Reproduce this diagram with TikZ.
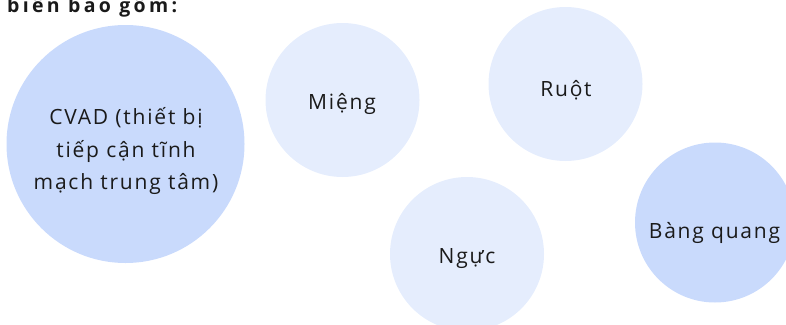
\documentclass[tikz,border=0pt]{standalone}
\usepackage{fontspec}
\setmainfont{Open Sans}[LetterSpace=8.5]
\newfontfamily\headfont{Open Sans}[LetterSpace=17]
\definecolor{bubdark}{RGB}{201,218,252}
\definecolor{bublight}{RGB}{229,237,253}
\definecolor{ink}{RGB}{26,26,26}
\begin{document}
\begin{tikzpicture}[x=1pt,y=-1pt,
  bubble/.style={circle, inner sep=0pt, draw=none},
  lbl/.style={anchor=base, text=ink, font=\fontsize{21}{25}\selectfont, inner sep=0pt}]
\useasboundingbox (0,0) rectangle (786,324);
\clip (0,0) rectangle (786,324);
% header (clipped at top)
\node[anchor=base west, inner sep=0pt, text=ink, font=\headfont\bfseries\fontsize{19.5}{23}\selectfont] (head) at (7,12.3) {biến bao gồm:};
% bubbles
\node[bubble, fill=bubdark, minimum size=238pt] (cvad) at (125.5,144) {};
\node[bubble, fill=bublight, minimum size=154pt] (mieng) at (342.5,100) {};
\node[bubble, fill=bublight, minimum size=154pt] (ruot) at (565.5,84) {};
\node[bubble, fill=bublight, minimum size=154pt] (nguc) at (467,254) {};
\node[bubble, fill=bubdark, minimum size=160pt] (bang) at (715,222.5) {};
% labels
\node[lbl] (cvad1) at (126,124) {CVAD (thiết bị};
\node[lbl] (cvad2) at (126,157) {tiếp cận tĩnh};
\node[lbl] (cvad3) at (126,189) {mạch trung tâm)};
\node[lbl] (miengt) at (342,109.3) {Miệng};
\node[lbl] (ruott) at (566,96.7) {Ruột};
\node[lbl] (ngucc) at (467,263) {Ngực};
\node[lbl] (bangt) at (714.5,238) {Bàng quang};
\end{tikzpicture}
\end{document}
